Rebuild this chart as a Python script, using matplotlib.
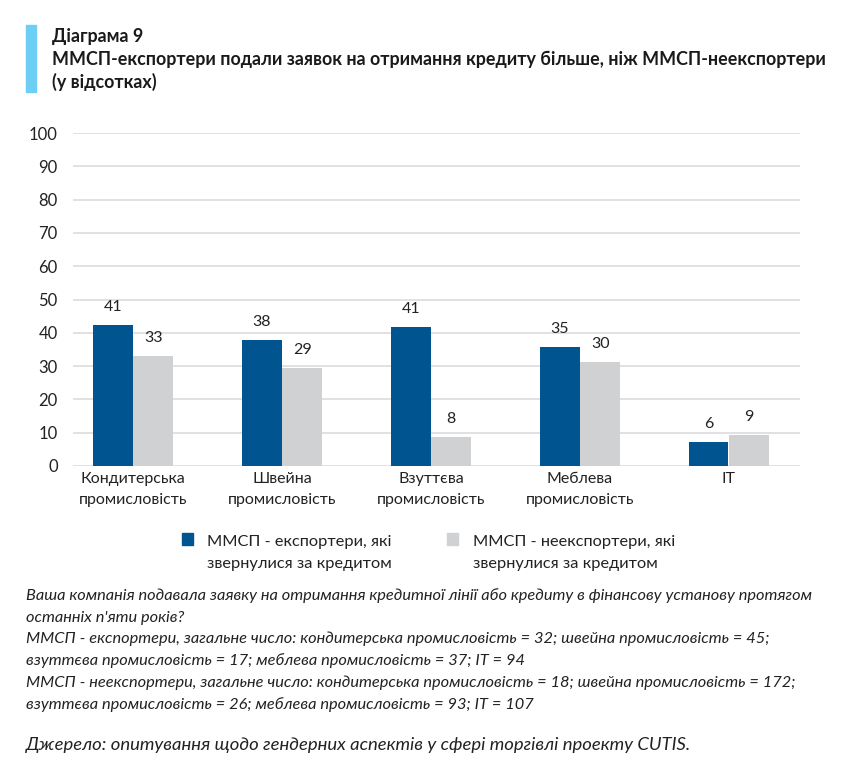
import matplotlib
matplotlib.use("Agg")
import matplotlib.pyplot as plt
import matplotlib.patches as mpatches
import numpy as np

categories = ["Кондитерська\nпромисловість", "Швейна\nпромисловість",
              "Взуттєва\nпромисловість", "Меблева\nпромисловість", "IT"]
exporters = [42.3, 37.8, 41.8, 35.7, 7.2]
non_exporters = [33.0, 29.4, 8.8, 31.3, 9.3]
exporters_labels = ["41", "38", "41", "35", "6"]
non_exporters_labels = ["33", "29", "8", "30", "9"]
series_names = [["ММСП - експортери, які", "звернулися за кредитом"],
                ["ММСП - неекспортери, які", "звернулися за кредитом"]]
yticks = [0, 10, 20, 30, 40, 50, 60, 70, 80, 90, 100]

BLUE = "#00548f"
GREY = "#d0d1d3"
TXT = "#222222"

W, H = 856, 768
fig = plt.figure(figsize=(W / 100, H / 100), dpi=100)
plt.rcParams['font.family'] = ['Lato', 'DejaVu Sans']

def fy(px):
    return 1 - px / H

def fx(px):
    return px / W

# axes placement
ax_left, ax_right, ax_top, ax_bot = 73, 800, 133, 466
ax = fig.add_axes([fx(ax_left), fy(ax_bot), fx(ax_right - ax_left), (ax_bot - ax_top) / H])

x = np.arange(len(categories))
bw = 0.265
b1 = ax.bar(x - bw / 2 - 0.003, exporters, width=bw, color=BLUE, zorder=3)
b2 = ax.bar(x + bw / 2 + 0.003, non_exporters, width=bw, color=GREY, zorder=3)

for rects, labs in ((b1, exporters_labels), (b2, non_exporters_labels)):
    for r, lab in zip(rects, labs):
        ax.annotate(lab, (r.get_x() + r.get_width() / 2, r.get_height()),
                    xytext=(0, 8), textcoords="offset points", ha="center", va="bottom",
                    fontsize=11.5, color=TXT)

ax.set_ylim(0, 100)
ax.set_xlim(-0.403, 4.477)
ax.set_yticks(yticks)
ax.set_yticklabels([str(v) for v in yticks], fontsize=12, color=TXT)
ax.set_xticks(x)
ax.set_xticklabels(categories, fontsize=11.5, color=TXT, linespacing=1.65)
ax.tick_params(axis="both", length=0)
ax.tick_params(axis="y", pad=11)
ax.tick_params(axis="x", pad=4)
ax.yaxis.grid(True, color="#d9d9d9", linewidth=1.1, zorder=0)
ax.set_axisbelow(True)
for s in ax.spines.values():
    s.set_visible(False)

# legend (drawn manually to match layout)
leg_colors = [BLUE, GREY]
leg_sq_x = [182, 447]
leg_txt_x = [207, 473]
for col, sx, tx, lines in zip(leg_colors, leg_sq_x, leg_txt_x, series_names):
    fig.patches.append(mpatches.Rectangle((fx(sx), fy(545)), fx(11), 12 / H,
                                          transform=fig.transFigure, color=col))
    for j, ln in enumerate(lines):
        fig.text(fx(tx), fy(546 + 22 * j), ln, fontsize=11.8, color=TXT,
                 va="baseline", ha="left")

# title block
fig.patches.append(mpatches.Rectangle((fx(26), fy(92)), fx(10), (92 - 25) / H,
                                      transform=fig.transFigure, color="#6dcff6", zorder=1))
title_lines = ["Діаграма 9",
               "ММСП-експортери подали заявок на отримання кредиту більше, ніж ММСП-неекспортери",
               "(у відсотках)"]
for i, t in enumerate(title_lines):
    fig.text(fx(52), fy(42 + 23 * i), t, fontsize=12.9, fontweight="bold", color="#1a1a1a",
             va="baseline", ha="left")

notes = ["Ваша компанія подавала заявку на отримання кредитної лінії або кредиту в фінансову установу протягом",
         "останніх п'яти років?",
         "ММСП - експортери, загальне число: кондитерська промисловість = 32; швейна промисловість = 45;",
         "взуттєва промисловість = 17; меблева промисловість = 37; IT = 94",
         "ММСП - неекспортери, загальне число: кондитерська промисловість = 18; швейна промисловість = 172;",
         "взуттєва промисловість = 26; меблева промисловість = 93; IT = 107"]
for i, t in enumerate(notes):
    fig.text(fx(26), fy(600 + 21.7 * i), t, fontsize=11.8, style="italic", color=TXT,
             va="baseline", ha="left")
fig.text(fx(26), fy(750), "Джерело: опитування щодо гендерних аспектів у сфері торгівлі проекту CUTIS.",
         fontsize=13.3, style="italic", color=TXT, va="baseline", ha="left")

fig.savefig("out.png", dpi=100, facecolor="white")
